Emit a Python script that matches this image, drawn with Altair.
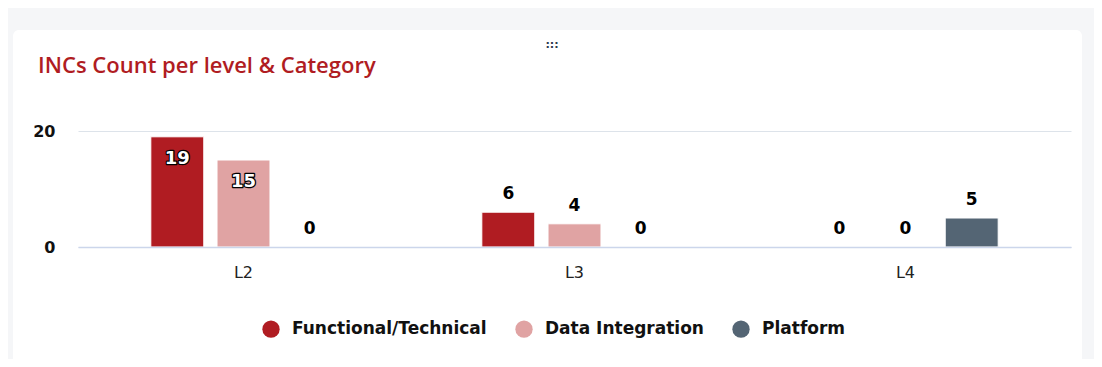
import altair as alt
import pandas as pd

levels = ["L2", "L3", "L4"]
categories = ["Functional/Technical", "Data Integration", "Platform"]
functional = [19, 6, 0]
data_integration = [15, 4, 0]
platform = [0, 0, 5]
colors = ["#b01c22", "#e0a3a3", "#546574"]
title_text = "INCs Count per level & Category"

rows = []
for cat, vals in zip(categories, [functional, data_integration, platform]):
    for lvl, v in zip(levels, vals):
        rows.append({"level": lvl, "category": cat, "count": v})
df = pd.DataFrame(rows)

FONT = "DejaVu Sans"

x_enc = alt.X(
    "level:N", sort=levels, title=None,
    scale=alt.Scale(paddingInner=0.44, paddingOuter=0.22),
    axis=alt.Axis(labelAngle=0, labelFont=FONT, labelFontSize=16, labelColor="#222",
                  labelPadding=17, ticks=False, domainColor="#ccd6eb", domainWidth=1.5,
                  grid=False, zindex=1),
)
xo_enc = alt.XOffset("category:N", sort=categories,
                     scale=alt.Scale(paddingInner=0.2, paddingOuter=0))
y_enc = alt.Y(
    "count:Q", title=None,
    scale=alt.Scale(domain=[0, 20], nice=False),
    axis=alt.Axis(values=[0, 20], labelFont=FONT, labelFontSize=16, labelFontWeight="bold",
                  labelColor="#111", labelPadding=23, ticks=False, domain=False,
                  gridColor="#dde3ea", gridWidth=1, zindex=1),
)
color_enc = alt.Color(
    "category:N", sort=categories,
    scale=alt.Scale(domain=categories, range=colors),
    legend=alt.Legend(title=None, orient="none", direction="horizontal",
                      legendX=184, legendY=189, symbolType="circle", symbolSize=300,
                      symbolStrokeWidth=0, labelFont=FONT, labelFontSize=17,
                      labelFontWeight="bold", labelColor="#111", labelOffset=12,
                      columnPadding=28, labelLimit=400),
)

card = alt.Chart(pd.DataFrame({"k": [0]})).mark_rect(
    fill="white", cornerRadius=6
).encode(x=alt.value(-65), x2=alt.value(1004), y=alt.value(-101), y2=alt.value(250))

handle = alt.Chart(pd.DataFrame({"k": [":::"]})).mark_text(
    font=FONT, fontSize=11, color="#2d3b4e", fontWeight="bold"
).encode(text="k:N", x=alt.value(474), y=alt.value(-86))

bars = alt.Chart(df).mark_bar(stroke="white", strokeWidth=1).encode(
    x=x_enc, xOffset=xo_enc, y=y_enc, color=color_enc
)

inside = alt.Chart(df).transform_filter("datum.count >= 10")
inside_outline = inside.mark_text(
    font=FONT, fontSize=18, fontWeight="bold", dy=22, baseline="middle",
    fill="black", stroke="black", strokeWidth=2.5, strokeJoin="round"
).encode(x=x_enc, xOffset=xo_enc, y=y_enc, text="count:Q")
inside_fill = inside.mark_text(
    font=FONT, fontSize=18, fontWeight="bold", dy=22, baseline="middle", fill="white"
).encode(x=x_enc, xOffset=xo_enc, y=y_enc, text="count:Q")

outside = alt.Chart(df).transform_filter("datum.count < 10").mark_text(
    font=FONT, fontSize=17, fontWeight="bold", dy=-18, baseline="middle", fill="black"
).encode(x=x_enc, xOffset=xo_enc, y=y_enc, text="count:Q")

chart = alt.layer(card, handle, bars, inside_outline, inside_fill, outside).properties(
    width=993, height=116,
    autosize=alt.AutoSizeParams(type="none"),
    padding={"left": 70, "top": 123, "right": 23, "bottom": 112},
    background="#f5f6f8",
    title=alt.TitleParams(title_text, anchor="start", frame="group", dx=-40, dy=52,
                          font="Open Sans", fontSize=22, fontWeight=600, color="#b01c22"),
).configure_view(stroke=None)

chart.save("out.html", embed_options={"renderer": "svg", "actions": False})
